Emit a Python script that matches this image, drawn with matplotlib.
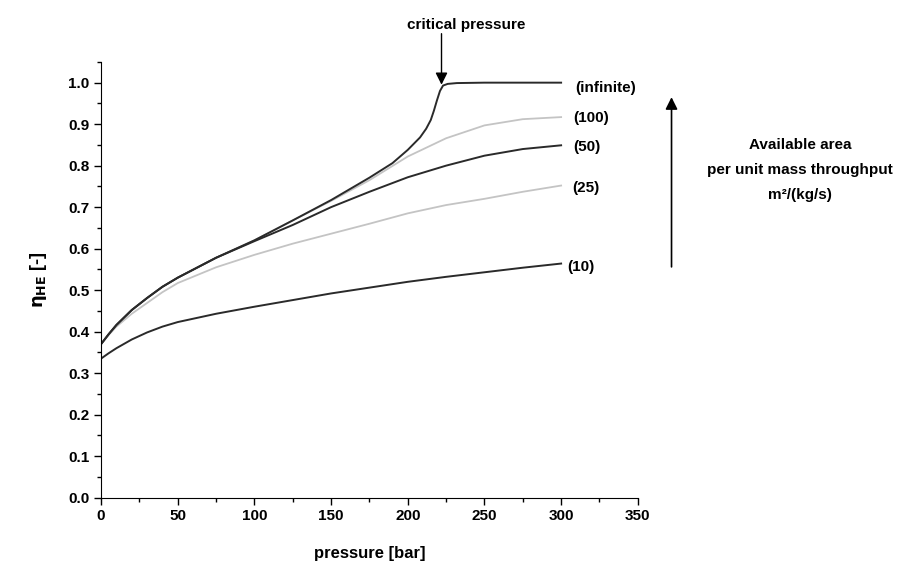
import matplotlib.pyplot as plt
from matplotlib.ticker import MultipleLocator

plt.rcParams['font.family'] = ['Liberation Sans', 'DejaVu Sans']
plt.rcParams['font.weight'] = 'bold'
plt.rcParams['axes.labelweight'] = 'bold'
plt.rcParams['mathtext.default'] = 'bf'

# pressure [bar] and eta_HE values
p = [0, 5, 10, 20, 30, 40, 50, 75, 100, 125, 150, 175, 200, 225, 250, 275, 300]

eta_10 = [0.335, 0.348, 0.360, 0.381, 0.398, 0.412, 0.423, 0.443, 0.460, 0.476,
          0.492, 0.506, 0.520, 0.532, 0.543, 0.554, 0.564]
eta_25 = [0.370, 0.392, 0.412, 0.443, 0.469, 0.495, 0.517, 0.555, 0.585, 0.612,
          0.636, 0.660, 0.685, 0.705, 0.720, 0.737, 0.752]
eta_50 = [0.370, 0.394, 0.416, 0.452, 0.481, 0.508, 0.530, 0.578, 0.618, 0.657,
          0.700, 0.737, 0.772, 0.800, 0.824, 0.840, 0.849]
eta_100 = [0.370, 0.394, 0.416, 0.452, 0.481, 0.508, 0.530, 0.578, 0.620, 0.668,
           0.715, 0.765, 0.822, 0.866, 0.897, 0.912, 0.917]

p_inf = [0, 5, 10, 20, 30, 40, 50, 75, 100, 125, 150, 175, 190, 200, 208, 212,
         215, 217, 219, 221, 223, 226, 232, 250, 300]
eta_inf = [0.370, 0.394, 0.416, 0.452, 0.481, 0.508, 0.530, 0.578, 0.620, 0.668,
           0.717, 0.771, 0.806, 0.838, 0.868, 0.889, 0.910, 0.932, 0.957, 0.980,
           0.993, 0.997, 0.999, 1.0, 1.0]

dark = '#2a2a2a'
light = '#c4c4c4'

fig = plt.figure(figsize=(9.19, 5.68), dpi=100)
ax = fig.add_axes([0.110, 0.124, 0.584, 0.767])

ax.plot(p, eta_25, color=light, lw=1.3)
ax.plot(p, eta_100, color=light, lw=1.3)
ax.plot(p, eta_10, color=dark, lw=1.4)
ax.plot(p, eta_50, color=dark, lw=1.4)
ax.plot(p_inf, eta_inf, color=dark, lw=1.4)

ax.set_xlim(0, 350)
ax.set_ylim(0, 1.05)
ax.xaxis.set_major_locator(MultipleLocator(50))
ax.xaxis.set_minor_locator(MultipleLocator(25))
ax.yaxis.set_major_locator(MultipleLocator(0.1))
ax.yaxis.set_minor_locator(MultipleLocator(0.05))
ax.yaxis.set_major_formatter(plt.FormatStrFormatter('%.1f'))
ax.tick_params(which='major', direction='out', length=5, width=1, labelsize=11)
ax.tick_params(which='minor', direction='out', length=3, width=1)
for s in ['top', 'right']:
    ax.spines[s].set_visible(False)

ax.set_xlabel('pressure [bar]', fontsize=12, labelpad=16)
ax.set_ylabel(r'$\eta_{\mathrm{HE}}$ [-]', fontsize=13, labelpad=14)

# curve labels
ax.text(309, 0.988, '(infinite)', fontsize=11, va='center', clip_on=False)
ax.text(308, 0.916, '(100)', fontsize=11, va='center', clip_on=False)
ax.text(308, 0.844, '(50)', fontsize=11, va='center', clip_on=False)
ax.text(307, 0.747, '(25)', fontsize=11, va='center', clip_on=False)
ax.text(304, 0.556, '(10)', fontsize=11, va='center', clip_on=False)

# critical pressure arrow
ax.text(238, 1.138, 'critical pressure', ha='center', va='center', fontsize=11,
        clip_on=False)
ax.annotate('', xy=(222, 0.995), xytext=(222, 1.118), annotation_clip=False,
            arrowprops=dict(arrowstyle='-|>', color='black', lw=1,
                            mutation_scale=18, shrinkA=0, shrinkB=0))

# available area arrow
ax.annotate('', xy=(372, 0.965), xytext=(372, 0.556), annotation_clip=False,
            arrowprops=dict(arrowstyle='-|>', color='black', lw=1.2,
                            mutation_scale=18, shrinkA=0, shrinkB=0))
ax.text(456, 0.79, 'Available area\nper unit mass throughput\nm²/(kg/s)',
        ha='center', va='center', fontsize=11, linespacing=2.0, clip_on=False)

fig.savefig('out.png', dpi=100)
